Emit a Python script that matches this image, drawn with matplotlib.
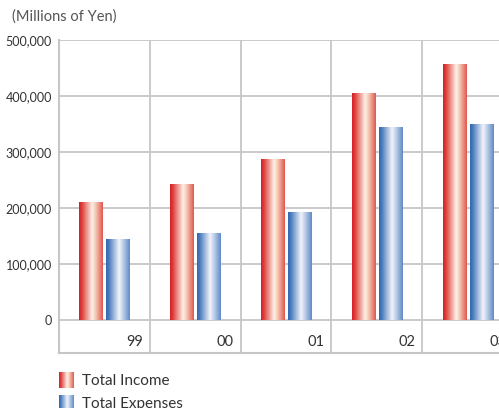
import matplotlib
matplotlib.use("Agg")
import matplotlib.pyplot as plt
import numpy as np
from matplotlib.colors import LinearSegmentedColormap

years = ["99", "00", "01", "02", "03"]
income = [209000, 242000, 286000, 405000, 457000]
expenses = [143000, 155000, 192000, 343000, 349000]
yticks = [0, 100000, 200000, 300000, 400000, 500000]
ytick_labels = ["0", "100,000", "200,000", "300,000", "400,000", "500,000"]
series_names = ["Total Income", "Total Expenses"]

plt.rcParams['font.family'] = ['Lato', 'DejaVu Sans']

red_cmap = LinearSegmentedColormap.from_list(
    "redg", [(0, '#d51e2b'), (0.12, '#de3f3a'), (0.55, '#fdf1e8'), (0.68, '#f6cdb8'), (1.0, '#e0574f')])
blue_cmap = LinearSegmentedColormap.from_list(
    "blueg", [(0, '#2f66b0'), (0.12, '#4b7cbd'), (0.55, '#f2f4fb'), (0.68, '#c8d6ec'), (1.0, '#5e8ac6')])
grad = np.linspace(0, 1, 256).reshape(1, -1)

W, H = 499, 408
fig = plt.figure(figsize=(W / 100, H / 100), dpi=100)
ax_left = 59 / W
ax_bottom = (H - 353) / H
ax_top = (H - 40) / H
ax_right = 513 / W
ax = fig.add_axes([ax_left, ax_bottom, ax_right - ax_left, ax_top - ax_bottom])

ymin = -58900
ax.set_xlim(0, 5)
ax.set_ylim(ymin, 500000)

gridc = '#c6c6c8'
for yv in yticks:
    ax.axhline(yv, color=gridc, lw=1.3, zorder=1)
for xv in range(1, 5):
    ax.axvline(xv, color=gridc, lw=1.3, zorder=1)

x = np.arange(len(years))
bw = 0.255
b1 = ax.bar(x + 0.353, income, width=bw, color='none', zorder=2)
b2 = ax.bar(x + 0.650, expenses, width=bw, color='none', zorder=2)
for bars, cmap in ((b1, red_cmap), (b2, blue_cmap)):
    for p in bars:
        x0, y0 = p.get_x(), p.get_y()
        ax.imshow(grad, cmap=cmap, aspect='auto', interpolation='bilinear',
                  extent=(x0, x0 + p.get_width(), y0, y0 + p.get_height()), zorder=3)
ax.set_xlim(0, 5)
ax.set_ylim(ymin, 500000)

for i, yr in enumerate(years):
    ax.text(i + 0.925, -39000, yr, ha='right', va='center', fontsize=10.5, color='#333333')

ax.set_yticks(yticks)
ax.set_yticklabels(ytick_labels)
ax.tick_params(axis='y', length=0, pad=5, labelsize=9, labelcolor='#333333')
ax.set_xticks([])
for s in ['top', 'right']:
    ax.spines[s].set_visible(False)
for s in ['left', 'bottom']:
    ax.spines[s].set_color(gridc)
    ax.spines[s].set_linewidth(1.5)

fig.text(12 / W, 1 - 17 / H, "(Millions of Yen)", ha='left', va='center', fontsize=10.5, color='#555555')

# legend
for k, (name, cmap) in enumerate(zip(series_names, (red_cmap, blue_cmap))):
    top = 372 + k * 23
    lax = fig.add_axes([59 / W, 1 - (top + 16) / H, 15 / W, 16 / H])
    lax.imshow(grad, cmap=cmap, aspect='auto', interpolation='bilinear')
    lax.axis('off')
    fig.text(82 / W, 1 - (top + 9) / H, name, ha='left', va='center', fontsize=11, color='#333333')

fig.savefig("out.png", dpi=100)
